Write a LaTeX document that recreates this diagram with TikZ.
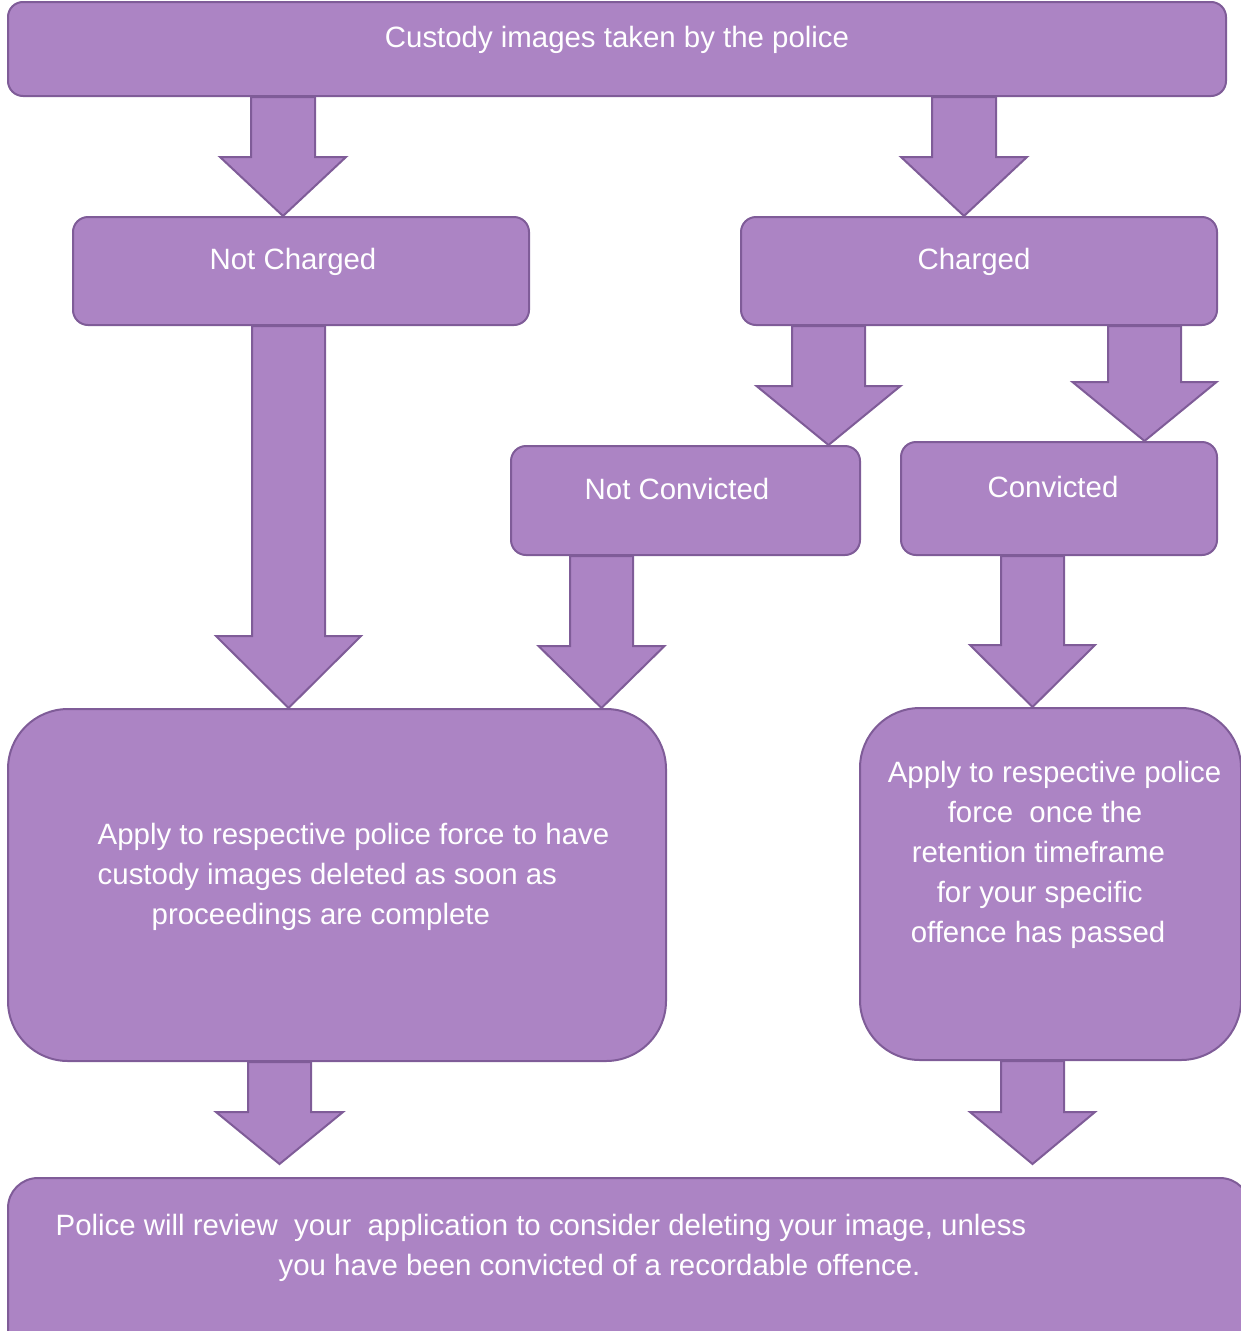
\documentclass[tikz,border=0pt]{standalone}
\usepackage{fontspec}
\setmainfont{Liberation Sans}
\usetikzlibrary{calc}
\definecolor{boxfill}{RGB}{172,132,196}
\definecolor{boxline}{RGB}{127,92,152}
\tikzset{
  box/.style={draw=boxline, fill=boxfill, line width=2pt, rounded corners=15pt, inner sep=0pt},
  bigbox/.style={box, rounded corners=60pt},
  lbl/.style={text=white, font=\fontsize{29.4}{40}\selectfont, inner sep=0pt},
  arr/.style={draw=boxline, fill=boxfill, line width=2pt, line join=miter},
}
% from, to, centre x, shaft half width, head half width, head length, gap above target
\newcommand{\barrow}[7]{%
  \path[arr] let \p1=(#1.south), \p2=(#2.north) in
    ({#3pt-#4pt},\y1) -- ({#3pt+#4pt},\y1) -- ({#3pt+#4pt},\y2+#7pt+#6pt)
    -- ({#3pt+#5pt},\y2+#7pt+#6pt) -- (#3pt,\y2+#7pt) -- ({#3pt-#5pt},\y2+#7pt+#6pt)
    -- ({#3pt-#4pt},\y2+#7pt+#6pt) -- cycle;}
\begin{document}
\begin{tikzpicture}[x=1pt,y=-1pt]
\useasboundingbox (0,0) rectangle (1241,1331);
\clip (0,0) rectangle (1241,1331);
\node[box, minimum width=1218pt, minimum height=94pt,
  label={[lbl, yshift=9pt]center:Custody images taken by the police}] (top) at (617,49) {};
\node[box, minimum width=456pt, minimum height=108pt,
  label={[lbl, xshift=-8pt, yshift=9pt]center:Not Charged}] (nch) at (301,271) {};
\node[box, minimum width=476pt, minimum height=108pt,
  label={[lbl, xshift=-5pt, yshift=9pt]center:Charged}] (ch) at (979,271) {};
\node[box, minimum width=349pt, minimum height=109pt,
  label={[lbl, xshift=-8.5pt, yshift=11.5pt]center:Not Convicted}] (ncv) at (685.5,500.5) {};
\node[box, minimum width=316pt, minimum height=113pt,
  label={[lbl, xshift=-6pt, yshift=11.5pt]center:Convicted}] (cv) at (1059,498.5) {};
\node[bigbox, minimum width=658pt, minimum height=352pt,
  label={[lbl, align=left, xshift=16.5pt, yshift=8.5pt]center:Apply to respective police force to have\\custody images deleted as soon as\\\hspace*{54pt}proceedings are complete}] (appl) at (337,885) {};
\node[bigbox, minimum width=381pt, minimum height=352pt,
  label={[lbl, align=left, xshift=4pt, yshift=29pt]center:Apply to respective police\\\hspace*{60pt}force \ once the\\\hspace*{24pt}retention timeframe\\\hspace*{49pt}for your specific\\\hspace*{23pt}offence has passed}] (appr) at (1050.5,884) {};
\node[box, rounded corners=30pt, minimum width=1242pt, minimum height=182pt,
  label={[lbl, align=left, xshift=-88pt, yshift=21pt]center:Police will review \ your \ application to consider deleting your image, unless\\\hspace*{223pt}you have been convicted of a recordable offence.}] (pol) at (629,1269) {};
\barrow{top}{nch}{283}{32}{63}{59}{0}
\barrow{top}{ch}{964}{32}{63}{59}{0}
\barrow{nch}{appl}{288.5}{36.5}{72.5}{72}{0}
\barrow{ch}{ncv}{828.5}{36.5}{72}{59}{0}
\barrow{ch}{cv}{1144.5}{36.5}{72}{59}{0}
\barrow{ncv}{appl}{601.5}{31.5}{63}{62}{0}
\barrow{cv}{appr}{1032.5}{31.5}{62.5}{62}{0}
\barrow{appl}{pol}{279.5}{31.5}{63.5}{52}{13}
\barrow{appr}{pol}{1032.5}{31.5}{62.5}{52}{13}
\end{tikzpicture}
\end{document}
